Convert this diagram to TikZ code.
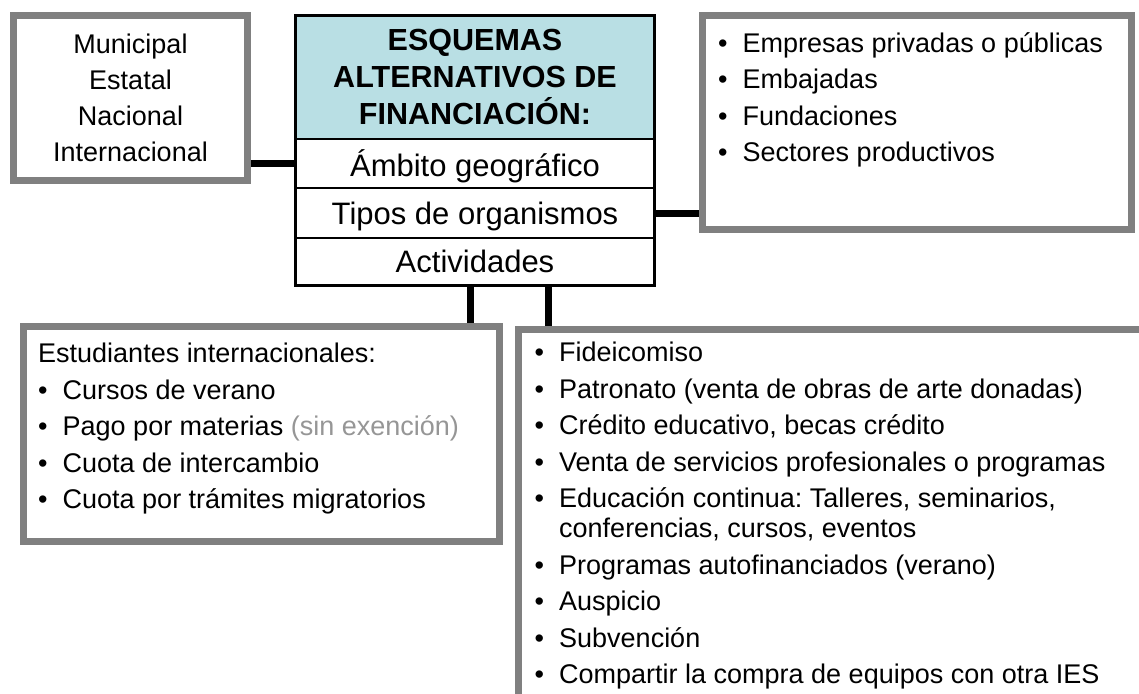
\documentclass[tikz,border=0pt]{standalone}
\usepackage{fontspec}
\setmainfont{Liberation Sans}
\usetikzlibrary{positioning}
\definecolor{boxgray}{RGB}{128,128,128}
\definecolor{headteal}{RGB}{185,223,228}
\definecolor{notegray}{RGB}{150,150,150}
\newcommand{\itm}{\makebox[24.5pt][l]{\textbullet}}
\frenchspacing

\begin{document}
\begin{tikzpicture}[x=1pt, y=-1pt,
    graybox/.style={draw=boxgray, line width=7pt, fill=white, inner sep=0pt},
    stackbox/.style={draw, line width=2.5pt, inner sep=0pt, outer sep=0pt, minimum width=359pt, text depth=0pt, font=\fontsize{31}{36}\selectfont},
    link/.style={line width=7pt},
    txt/.style={inner sep=0pt, align=left, anchor=north west, font=\fontsize{27}{36.5}\selectfont}]
  \useasboundingbox (0,0) rectangle (1139,693);
  \clip (0,0) rectangle (1139,693);

  \node[stackbox, fill=headteal, minimum height=123.5pt, align=center, font=\fontsize{30.5}{37}\selectfont\bfseries] (head) at (475,77.25) {ESQUEMAS\\ALTERNATIVOS DE\\FINANCIACIÓN:};
  \node[stackbox, minimum height=49pt, below=0pt of head] (amb) {Ámbito geográfico};
  \node[stackbox, minimum height=50pt, below=0pt of amb] (tip) {Tipos de organismos};
  \node[stackbox, minimum height=47.5pt, below=0pt of tip] (act) {Actividades};

  \node[graybox, minimum width=234pt, minimum height=165pt, align=center, font=\fontsize{27}{36}\selectfont] (geo) at (130.5,98) {Municipal\\Estatal\\Nacional\\Internacional};
  \node[graybox, minimum width=429pt, minimum height=214pt] (org) at (917,122.5) {};
  \node[graybox, minimum width=476pt, minimum height=215pt] (intl) at (261.5,434) {};
  \node[graybox, minimum width=700pt, minimum height=400pt, anchor=north west] (fin) at (515,326) {};

  \node[txt] (orgtxt) at (718,32) {\itm Empresas privadas o públicas\\\itm Embajadas\\\itm Fundaciones\\\itm Sectores productivos};
  \node[txt] (intltxt) at (38,343) {Estudiantes internacionales:\\\itm Cursos de verano\\\itm Pago por materias {\color{notegray}(sin exención)}\\\itm Cuota de intercambio\\\itm Cuota por trámites migratorios};
  \node[txt] (fintxt) at (534.5,342) {\itm Fideicomiso\\\itm Patronato (venta de obras de arte donadas)\\\itm Crédito educativo, becas crédito\\\itm Venta de servicios profesionales o programas\\\itm Educación continua: Talleres, seminarios,\\[-6.5pt]\hspace*{24.5pt}conferencias, cursos, eventos\\\itm Programas autofinanciados (verano)\\\itm Auspicio\\\itm Subvención\\\itm Compartir la compra de equipos con otra IES};

  \draw[link] (geo.east |- amb.west) -- (amb.west);
  \draw[link] (tip.east) -- (tip.east -| org.west);
  \draw[link] ([xshift=-5pt]act.south) -- ([xshift=-5pt]act.south |- intl.north);
  \draw[link] ([xshift=73pt]act.south) -- ([xshift=73pt]act.south |- fin.north);
\end{tikzpicture}
\end{document}
